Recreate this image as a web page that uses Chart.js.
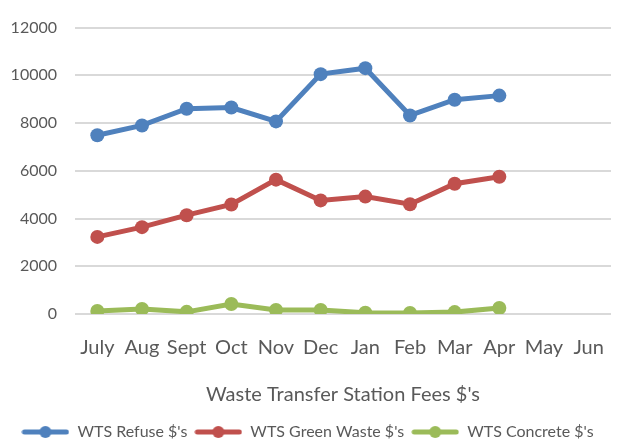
<!DOCTYPE html>
<html>
<head>
<meta charset="utf-8">
<script src="https://cdn.jsdelivr.net/npm/chart.js@4"></script>
<style>
  html, body { margin: 0; padding: 0; background: #fff; }
  #wrap { width: 624px; height: 441px; position: relative; }
</style>
</head>
<body>
<div id="wrap"><canvas id="feesChart"></canvas></div>
<script>
const months = ['July', 'Aug', 'Sept', 'Oct', 'Nov', 'Dec', 'Jan', 'Feb', 'Mar', 'Apr', 'May', 'Jun'];
const refuse = [7490, 7900, 8600, 8650, 8070, 10050, 10300, 8320, 8980, 9150, null, null];
const greenWaste = [3230, 3640, 4140, 4590, 5630, 4760, 4920, 4600, 5460, 5750, null, null];
const concrete = [130, 210, 90, 420, 170, 170, 50, 40, 80, 250, null, null];
const yTicks = [0, 2000, 4000, 6000, 8000, 10000, 12000];

// legend marker: line with a dot in the middle
function legendMarker(color) {
    const c = document.createElement('canvas');
    c.width = 48; c.height = 14;
    const g = c.getContext('2d');
    g.strokeStyle = color;
    g.lineWidth = 5;
    g.lineCap = 'round';
    g.beginPath(); g.moveTo(3, 7); g.lineTo(45, 7); g.stroke();
    g.fillStyle = color;
    g.beginPath(); g.arc(24, 7, 6, 0, Math.PI * 2); g.fill();
    return c;
}

function series(label, data, color) {
    return {
        label: label,
        data: data,
        borderColor: color,
        backgroundColor: color,
        borderWidth: 5,
        pointRadius: 7,
        pointHoverRadius: 7,
        pointBorderWidth: 0,
        pointStyle: 'circle',
        tension: 0
    };
}

const markers = {};

new Chart(document.getElementById('feesChart').getContext('2d'), {
    type: 'line',
    data: {
        labels: months,
        datasets: [
            series("WTS Refuse $'s", refuse, '#4f81bd'),
            series("WTS Green Waste $'s", greenWaste, '#c0504d'),
            series("WTS Concrete $'s", concrete, '#9bbb59')
        ]
    },
    options: {
        responsive: true,
        maintainAspectRatio: false,
        animation: false,
        layout: { padding: { left: 4, right: 13, top: 2, bottom: -9 } },
        plugins: {
            legend: {
                position: 'bottom',
                labels: {
                    usePointStyle: true,
                    pointStyleWidth: 48,
                    boxHeight: 14,
                    padding: 7,
                    color: '#595959',
                    font: { family: 'Lato', size: 16 },
                    generateLabels: function(chart) {
                        return chart.data.datasets.map(function(ds, i) {
                            return {
                                text: ds.label,
                                fillStyle: ds.borderColor,
                                strokeStyle: ds.borderColor,
                                pointStyle: markers[i] || (markers[i] = legendMarker(ds.borderColor)),
                                fontColor: '#595959',
                                datasetIndex: i,
                                hidden: false
                            };
                        });
                    }
                }
            },
            tooltip: { enabled: false }
        },
        scales: {
            x: {
                offset: true,
                grid: { display: false },
                border: { display: false },
                ticks: { color: '#595959', font: { family: 'Lato', size: 20 }, padding: 14, maxRotation: 0, autoSkip: false },
                title: {
                    display: true,
                    text: "Waste Transfer Station Fees $'s",
                    color: '#595959',
                    font: { family: 'Lato', size: 20 },
                    padding: { top: 9, bottom: 10 }
                }
            },
            y: {
                min: 0,
                max: 12000,
                afterBuildTicks: function(axis) {
                    axis.ticks = yTicks.map(function(v) { return { value: v }; });
                },
                afterFit: function(axis) { axis.width = 71; },
                grid: { color: '#d9d9d9', lineWidth: 2, drawTicks: false },
                border: { display: false },
                ticks: {
                    color: '#595959',
                    font: { family: 'Lato', size: 16 },
                    padding: 18,
                    callback: function(v) { return String(v); }
                }
            }
        }
    }
});
</script>
</body>
</html>
